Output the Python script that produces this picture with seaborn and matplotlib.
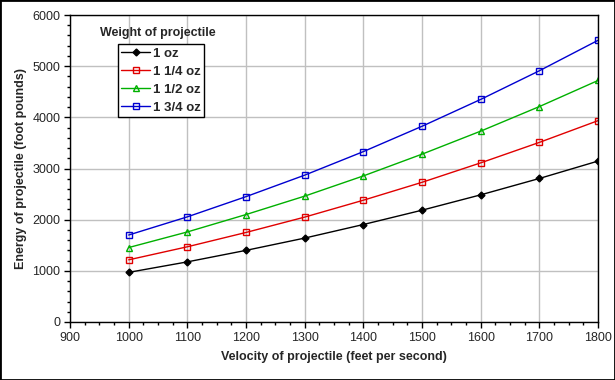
import matplotlib
matplotlib.use("Agg")
import matplotlib.pyplot as plt
import seaborn as sns
import pandas as pd
from matplotlib.ticker import MultipleLocator
from matplotlib.patches import Rectangle

velocity = [1000, 1100, 1200, 1300, 1400, 1500, 1600, 1700, 1800]
series_names = ["1 oz", "1 1/4 oz", "1 1/2 oz", "1 3/4 oz"]
energy_1oz = [970, 1175, 1400, 1640, 1905, 2185, 2485, 2805, 3145]
energy_1_25oz = [1215, 1470, 1750, 2050, 2380, 2730, 3110, 3510, 3935]
energy_1_5oz = [1455, 1760, 2100, 2460, 2855, 3280, 3730, 4210, 4720]
energy_1_75oz = [1700, 2055, 2450, 2870, 3330, 3825, 4350, 4910, 5505]
all_energy = [energy_1oz, energy_1_25oz, energy_1_5oz, energy_1_75oz]

rows = []
for name, vals in zip(series_names, all_energy):
    for v, e in zip(velocity, vals):
        rows.append({"Velocity": v, "Energy": e, "Weight": name})
df = pd.DataFrame(rows)

sns.set_theme(style="white")
plt.rcParams["font.family"] = ["Liberation Sans", "DejaVu Sans"]

fig = plt.figure(figsize=(6.15, 3.8), dpi=100)
ax = fig.add_axes([70/615, 58/380, 528/615, 307/380])

colors = ["#000000", "#E00000", "#00B000", "#0000D0"]
markers = ["D", "s", "^", "s"]
msizes = [3.5, 4.5, 5, 4.5]
for name, c, m, ms in zip(series_names, colors, markers, msizes):
    sub = df[df["Weight"] == name]
    sns.lineplot(data=sub, x="Velocity", y="Energy", ax=ax, color=c,
                 marker=m, markersize=ms, linewidth=1,
                 markerfacecolor=(c if m == "D" else "none"),
                 markeredgecolor=c, markeredgewidth=1,
                 label=name, estimator=None)

ax.set_xlim(900, 1800)
ax.set_ylim(0, 6000)
ax.xaxis.set_major_locator(MultipleLocator(100))
ax.xaxis.set_minor_locator(MultipleLocator(25))
ax.yaxis.set_major_locator(MultipleLocator(1000))
ax.yaxis.set_minor_locator(MultipleLocator(200))
ax.grid(True, which="major", color="#C0C0C0", linewidth=1)
ax.set_axisbelow(True)
for s in ax.spines.values():
    s.set_color("black")
    s.set_linewidth(1)
ax.tick_params(axis="both", which="major", direction="out", length=4, width=1,
               color="black", labelsize=9, pad=3, bottom=True, left=True)
ax.tick_params(axis="both", which="minor", direction="out", length=2, width=1,
               color="black", bottom=True, left=True)
ax.set_xlabel("Velocity of projectile (feet per second)", fontsize=9,
              fontweight="bold", labelpad=5)
ax.set_ylabel("Energy of projectile (foot pounds)", fontsize=9,
              fontweight="bold", labelpad=4)

leg = ax.legend(loc="upper left", bbox_to_anchor=(48/528, 1 - 29/307),
                frameon=True, fancybox=False, edgecolor="black",
                framealpha=1, borderpad=0.25, handlelength=2.2,
                handletextpad=0.2, labelspacing=0.45, borderaxespad=0,
                prop={"size": 9.5, "weight": "bold"})
leg.get_frame().set_linewidth(1)
fig.text(100/615, 1 - 33/380, "Weight of projectile", fontsize=9,
         fontweight="bold", va="center", ha="left")

fig.patches.append(Rectangle((0, 0), 1, 1, transform=fig.transFigure,
                             fill=False, edgecolor="black", linewidth=2))

fig.savefig("out.png", dpi=100)
